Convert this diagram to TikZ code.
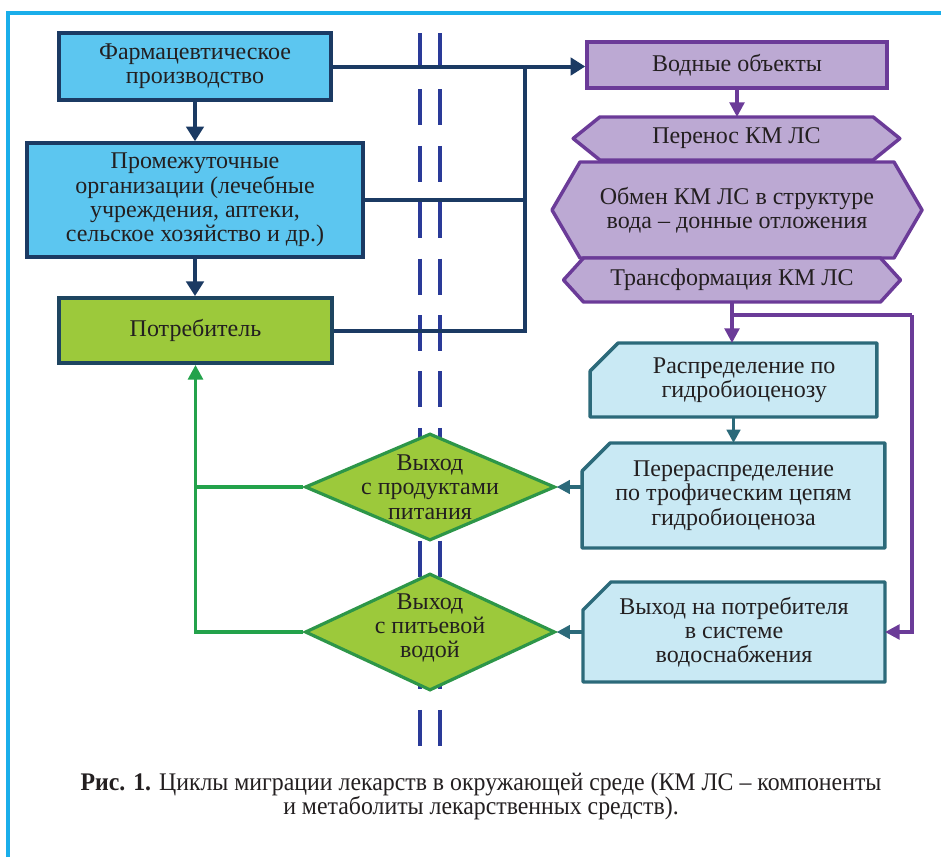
\documentclass[tikz,border=0pt]{standalone}
\usepackage{fontspec}
\setmainfont{Liberation Serif}
\newfontfamily\capfont[FakeStretch=0.94]{Liberation Serif}
\usetikzlibrary{arrows.meta,shapes.geometric}

\definecolor{txt}{HTML}{231F20}
\definecolor{drkblue}{HTML}{1B3A63}
\definecolor{skyfill}{HTML}{5CC6F0}
\definecolor{drkslate}{HTML}{1E4560}
\definecolor{limefill}{HTML}{9CC93B}
\definecolor{purp}{HTML}{6B3B98}
\definecolor{lilac}{HTML}{BCA9D3}
\definecolor{tealb}{HTML}{2C6A7A}
\definecolor{icefill}{HTML}{C9E9F4}
\definecolor{grnb}{HTML}{2D9648}
\definecolor{grnln}{HTML}{23A24B}
\definecolor{dashblue}{HTML}{2A3A98}
\definecolor{framecol}{HTML}{1AAEEA}

\pgfdeclarelayer{bg}
\pgfsetlayers{bg,main}

\begin{document}
\begin{tikzpicture}[x=0.75pt,y=-0.75pt,
  every node/.style={text=txt,font=\fontsize{18}{18.2}\selectfont,align=center},
  box/.style={draw,line width=2.6pt,inner sep=2pt},
  bluebox/.style={box,draw=drkblue,fill=skyfill},
  greenbox/.style={box,draw=drkslate,fill=limefill},
  lilacbox/.style={box,draw=purp,fill=lilac},
  textarea/.style={inner sep=2pt,outer sep=0pt},
  hexline/.style={draw=purp,fill=lilac,line width=2.6pt,line join=round},
  cutline/.style={draw=tealb,fill=icefill,line width=2.6pt,line join=round},
  diam/.style={diamond,draw=grnb,fill=limefill,line width=2.4pt,inner sep=0pt,minimum width=187.5pt},
  navyln/.style={draw=drkblue,line width=3pt},
  navyarr/.style={navyln,-{Triangle[length=11pt,width=13pt]}},
  purpln/.style={draw=purp,line width=2.6pt},
  purparr/.style={purpln,-{Triangle[length=11pt,width=11pt]}},
  tealarr/.style={draw=tealb,line width=2.6pt,-{Triangle[length=10pt,width=10pt]}},
  greenln/.style={draw=grnln,line width=2.6pt},
  greenarr/.style={greenln,-{Triangle[length=11pt,width=11pt]}}]
  \useasboundingbox (0,0) rectangle (941,857);
  \draw[framecol,line width=2.6pt] (8,857) -- (8,13) -- (941,13);

  \foreach \x in {420,440}
    \draw[dashblue,line width=2.6pt,dash pattern=on 27pt off 15.3pt] (\x,33) -- (\x,746);

  % left column
  \node[bluebox,minimum width=204pt,minimum height=50pt] (pharma) at (195,66.5) {Фармацевтическое\\производство};
  \node[bluebox,minimum width=252pt,minimum height=85.5pt] (org) at (195,200) {Промежуточные\\организации (лечебные\\учреждения, аптеки,\\сельское хозяйство и др.)};
  \node[greenbox,minimum width=205pt,minimum height=49pt] (cons) at (195.5,330.5) {Потребитель};

  % water side
  \node[lilacbox,minimum width=225pt,minimum height=34.5pt] (water) at (737,65) {Водные объекты};
  \node[textarea,minimum width=245pt,minimum height=32.25pt] (transfer) at (736.5,138.5) {Перенос КМ ЛС};
  \node[textarea,minimum width=277.5pt,minimum height=72pt] (exchange) at (737,210) {Обмен КМ ЛС в структуре\\вода – донные отложения};
  \node[textarea,minimum width=252.75pt,minimum height=33pt] (transform) at (732,280) {Трансформация КМ ЛС};

  \node[textarea,minimum width=215pt,minimum height=55.5pt] (distr) at (733.5,380) {\hspace*{16pt}Распределение по\\\hspace*{16pt}гидробиоценозу};
  \node[textarea,minimum width=227pt,minimum height=78.75pt] (redistr) at (733.5,495.5) {Перераспределение\\по трофическим цепям\\гидробиоценоза};
  \node[textarea,minimum width=226.5pt,minimum height=75pt] (supply) at (734,632) {Выход на потребителя\\в системе\\водоснабжения};

  \begin{pgfonlayer}{bg}
    \foreach \n/\s in {transfer/20pt,exchange/21pt,transform/15pt}
      \path[hexline] (\n.west) -- ([xshift=\s]\n.north west) -- ([xshift=-\s]\n.north east)
        -- (\n.east) -- ([xshift=-\s]\n.south east) -- ([xshift=\s]\n.south west) -- cycle;
    \foreach \n in {distr,redistr,supply}
      \path[cutline] (\n.south west) -- ([yshift=-21pt]\n.north west) -- ([xshift=21pt]\n.north west)
        -- (\n.north east) -- (\n.south east) -- cycle;
  \end{pgfonlayer}

  % exits
  \node[diam,minimum height=80.25pt] (food) at (430,487) {};
  \node (foodtxt) at (food) {Выход\\с продуктами\\питания};
  \node[diam,minimum height=87.75pt] (drink) at (430,632) {};
  \node (drinktxt) at (430,628) {Выход\\с питьевой\\водой};

  \coordinate (bus) at (525,66.5);
  \coordinate (split) at (732,315);
  \coordinate (rside) at (912,315);

  \draw[navyarr] (pharma.south) -- (org.north);
  \draw[navyarr] (org.south) -- (org.south |- cons.north);
  \draw[navyarr] (pharma.east) -- (pharma.east -| water.west);
  \draw[navyln] (org.east) -- (org.east -| bus);
  \draw[navyln] (cons.east) -| (bus);

  \draw[purparr] (water.south) -- (water.south |- transfer.north);
  \draw[purparr] (transform.south) -- (transform.south |- distr.north);
  \draw[purpln] (split) -- (rside);
  \draw[purparr] (rside) |- (supply.east);

  \draw[tealarr] (distr.south) -- (distr.south |- redistr.north);
  \draw[tealarr] (food.east -| redistr.west) -- (food.east);
  \draw[tealarr] (supply.west) -- (drink.east);

  \draw[greenln] (food.west) -- (food.west -| cons.south);
  \draw[greenarr] (drink.west) -| (cons.south);

  \node[font=\capfont\fontsize{19}{18}\selectfont] (caption) at (481,796) {\textbf{Рис. 1.} Циклы миграции лекарств в окружающей среде (КМ ЛС – компоненты\\и метаболиты лекарственных средств).};
\end{tikzpicture}
\end{document}
